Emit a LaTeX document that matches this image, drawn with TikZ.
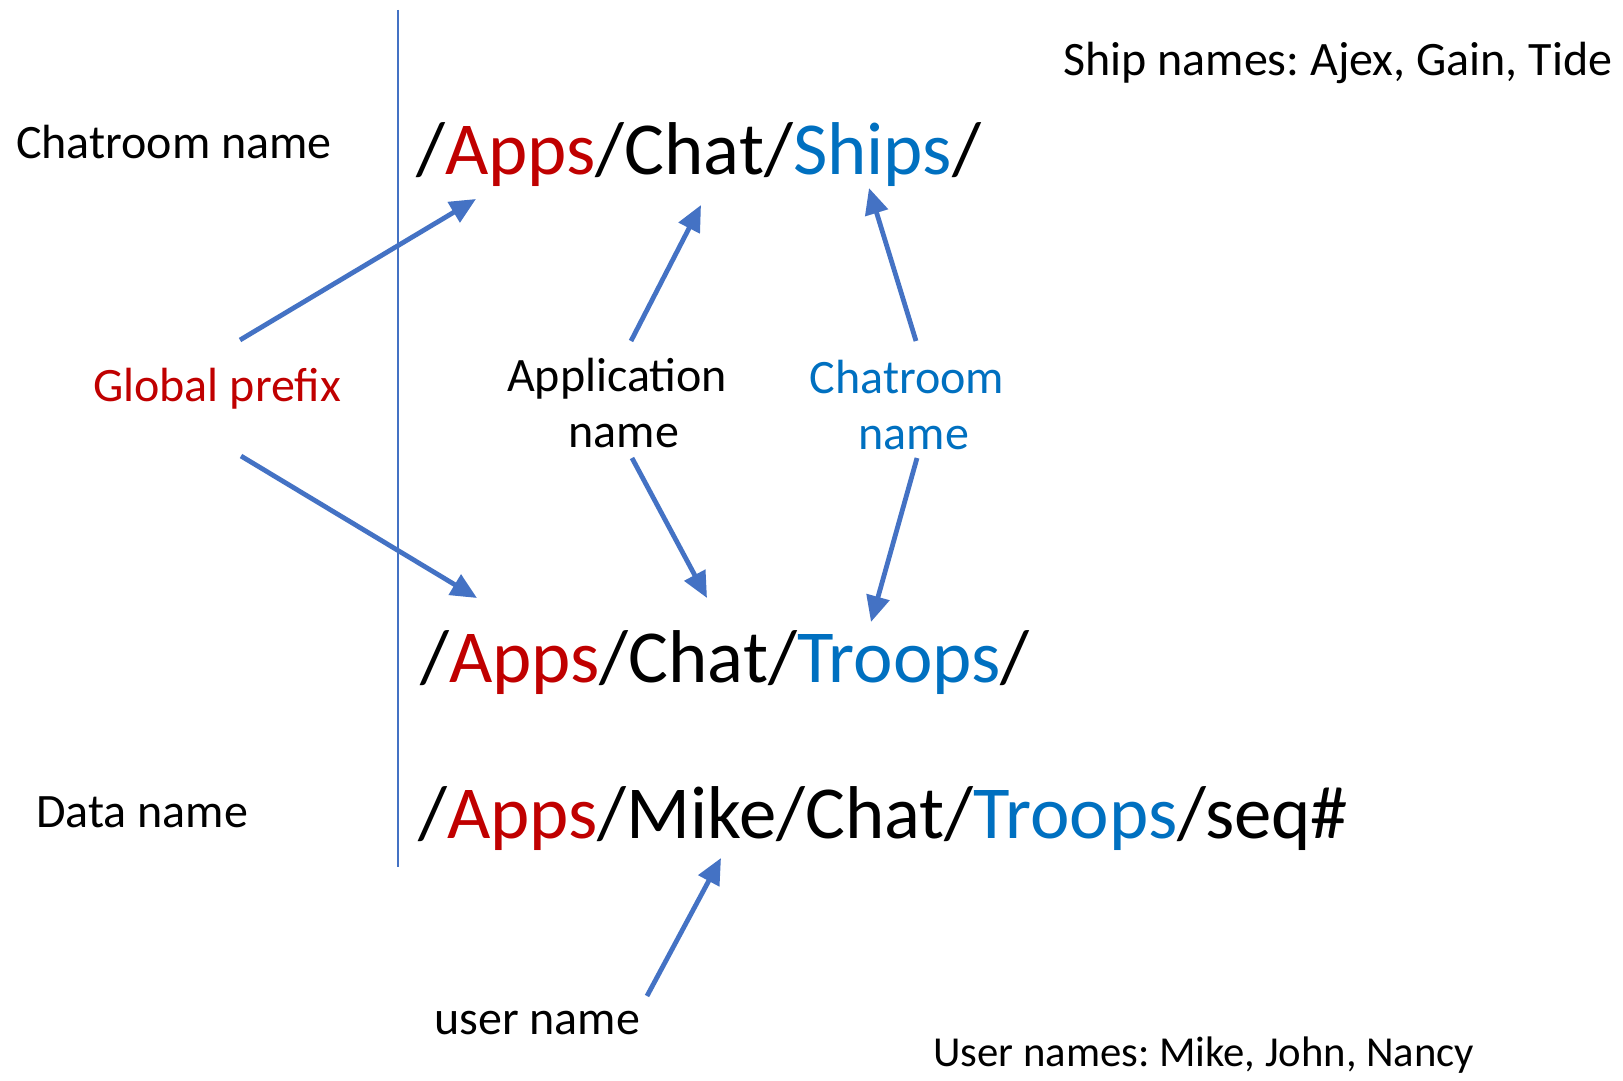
\documentclass[tikz,border=0pt]{standalone}
\usepackage{fontspec}
\setmainfont{Carlito}
\usetikzlibrary{arrows.meta}
\definecolor{arrowblue}{HTML}{4472C4}
\definecolor{pfxred}{HTML}{C00000}
\definecolor{roomblue}{HTML}{0070C0}
\frenchspacing
\begin{document}
\begin{tikzpicture}[x=1pt,y=-1pt,
  lbl/.style={inner sep=0pt, anchor=base west, font=\fontsize{48}{57}\selectfont},
  small/.style={inner sep=0pt, anchor=base west, font=\fontsize{42.7}{50}\selectfont},
  bigpath/.style={inner sep=0pt, anchor=base west, font=\fontsize{74.8}{89}\selectfont},
  twoline/.style={inner sep=0pt, anchor=base, align=center, font=\fontsize{48}{56}\selectfont},
  ptr/.style={draw=arrowblue, line width=4.8pt, -{Triangle[length=26pt,width=23pt]}},
  divider/.style={draw=arrowblue, line width=2pt}]
\useasboundingbox (0,0) rectangle (1623,1081);
\fill[white] (0,0) rectangle (1623,1081);

% texts
\node[lbl] (ships) at (1063,75) {Ship names: Ajex, Gain, Tide};
\node[lbl] (chatlbl) at (16,158) {Chatroom name};
\node[bigpath] (path1) at (416,174) {/\textcolor{pfxred}{Apps}/Chat/\textcolor{roomblue}{Ships}/};
\node[lbl, text=pfxred] (global) at (93,401) {Global prefix};
\node[twoline] (appname) at (617,447) {Application\\\hspace*{14pt}name};
\node[twoline, text=roomblue] (roomname) at (907,449) {Chatroom\\\hspace*{14pt}name};
\node[bigpath] (path2) at (420,682) {/\textcolor{pfxred}{Apps}/Chat/\textcolor{roomblue}{Troops}/};
\node[lbl] (datalbl) at (36,827) {Data name};
\node[bigpath] (path3) at (418,838) {/\textcolor{pfxred}{Apps}/Mike/Chat/\textcolor{roomblue}{Troops}/seq\#};
\node[lbl] (username) at (434,1034) {user name};
\node[small] (usernames) at (933,1066) {User names: Mike, John, Nancy};

% divider
\coordinate (divTop) at (397.5,10);
\coordinate (divBot) at (397.5,867);
\draw[divider] (divTop) -- (divBot);

% arrow end points
\coordinate (gpU0) at (240,340);
\coordinate (gpU1) at (476,199);
\coordinate (gpL0) at (241,456);
\coordinate (gpL1) at (477,598);
\coordinate (apU0) at (631,341);
\coordinate (apU1) at (701,205);
\coordinate (apL0) at (632,458);
\coordinate (apL1) at (707,598);
\coordinate (crU0) at (916,341);
\coordinate (crU1) at (869,188);
\coordinate (crL0) at (917,458);
\coordinate (crL1) at (871,622);
\coordinate (un0) at (647,996);
\coordinate (un1) at (721,858);

\draw[ptr] (gpU0) -- (gpU1);
\draw[ptr] (gpL0) -- (gpL1);
\draw[ptr] (apU0) -- (apU1);
\draw[ptr] (apL0) -- (apL1);
\draw[ptr] (crU0) -- (crU1);
\draw[ptr] (crL0) -- (crL1);
\draw[ptr] (un0) -- (un1);
\end{tikzpicture}
\end{document}
